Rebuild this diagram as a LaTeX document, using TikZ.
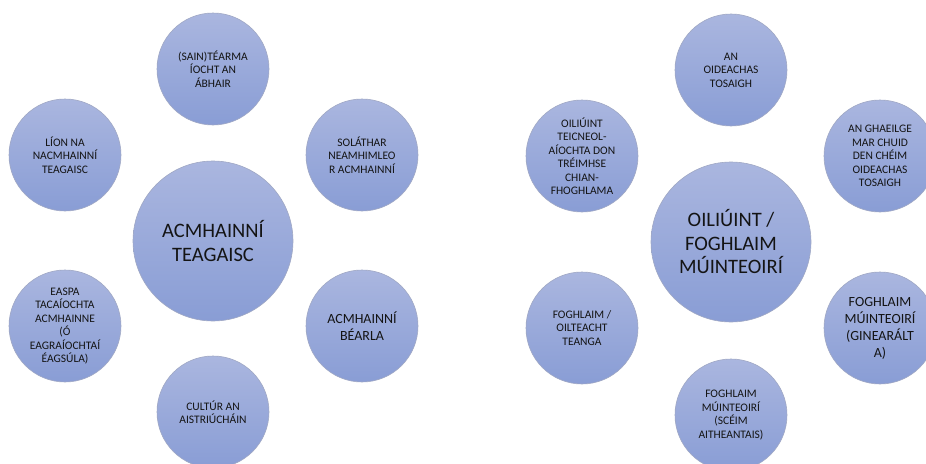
\documentclass[tikz,border=0pt]{standalone}
\usepackage{fontspec}
\setmainfont{Carlito}
\begin{document}
\begin{tikzpicture}[x=1pt,y=-1pt,
  bubble/.style={circle, inner sep=0pt, align=center, text=black!92,
    draw=rimgrey, line width=0.6pt,
    top color=bubtop, bottom color=bubbot},
  minor/.style={bubble, minimum size=112pt,
    font=\fontsize{11.5}{13.5}\selectfont},
  major/.style={bubble, minimum size=160pt,
    font=\fontsize{20.5}{23.5}\selectfont},
  wide/.style={font=\fontsize{14}{17}\selectfont}]
\definecolor{bubtop}{RGB}{170,182,223}
\definecolor{bubbot}{RGB}{137,157,213}
\definecolor{rimgrey}{RGB}{160,168,196}
\useasboundingbox (0,0) rectangle (926,463);
\clip (0,0) rectangle (926,463);

% teaching resources cluster
\node[major] (res) at (213,241) {ACMHAINNÍ\\TEAGAISC};
\node[minor] (resT)  at (213,69)  {(SAIN)TÉARMA\\ÍOCHT AN\\ÁBHAIR};
\node[minor] (resUL) at (65,155)  {LÍON NA\\NACMHAINNÍ\\TEAGAISC};
\node[minor] (resUR) at (362,155) {SOLÁTHAR\\NEAMHIMLEO\\R ACMHAINNÍ};
\node[minor] (resLL) at (65,326)  {EASPA\\TACAÍOCHTA\\ACMHAINNE\\(Ó\\EAGRAÍOCHTAÍ\\ÉAGSÚLA)};
\node[minor, wide] (resLR) at (362,326) {ACMHAINNÍ\\BÉARLA};
\node[minor] (resB)  at (213,412) {CULTÚR AN\\AISTRIÚCHÁIN};

% teacher training cluster
\node[major] (trn) at (731,242) {OILIÚINT /\\FOGHLAIM\\MÚINTEOIRÍ};
\node[minor] (trnT)  at (731,70)  {AN\\OIDEACHAS\\TOSAIGH};
\node[minor] (trnUL) at (582,156) {OILIÚINT\\TEICNEOL-\\AÍOCHTA DON\\TRÉIMHSE\\CHIAN-\\FHOGHLAMA};
\node[minor] (trnUR) at (880,156) {AN GHAEILGE\\MAR CHUID\\DEN CHÉIM\\OIDEACHAS\\TOSAIGH};
\node[minor] (trnLL) at (582,328) {FOGHLAIM /\\OILTEACHT\\TEANGA};
\node[minor, wide] (trnLR) at (880,328) {FOGHLAIM\\MÚINTEOIRÍ\\(GINEARÁLT\\A)};
\node[minor] (trnB)  at (731,415) {FOGHLAIM\\MÚINTEOIRÍ\\(SCÉIM\\AITHEANTAIS)};
\end{tikzpicture}
\end{document}
